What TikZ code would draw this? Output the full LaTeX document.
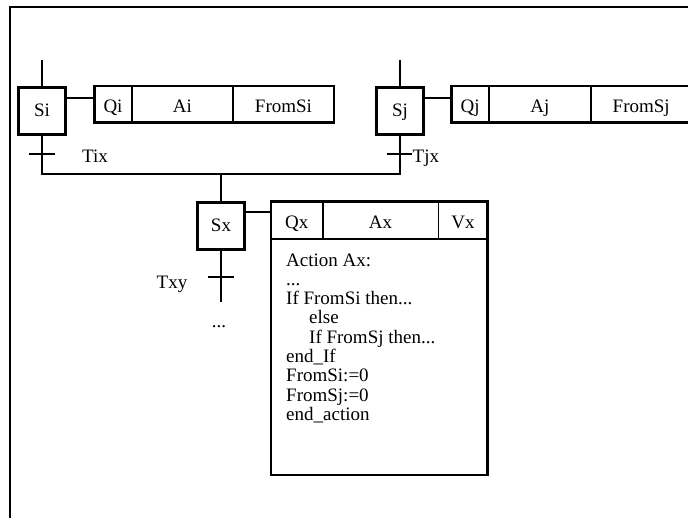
\documentclass[tikz,border=0pt]{standalone}
\usepackage{fontspec}
\setmainfont{Liberation Serif}
\usetikzlibrary{positioning}

\begin{document}
\begin{tikzpicture}[x=1pt, y=-1pt, every node/.style={font=\fontsize{19}{19.3}\selectfont},
	stepbox/.style={draw, line width=2.8pt, minimum size=47pt, inner sep=0pt, outer sep=0pt, text height=11pt, text depth=0pt},
	cell/.style={draw, line width=1.6pt, minimum height=36.7pt, inner sep=0pt, outer sep=0pt, text height=16pt, text depth=0pt},
	outline/.style={line width=2.8pt},
	link/.style={line width=2pt},
	codeline/.style={anchor=base west, inner sep=0pt}]
	\useasboundingbox (0,0) rectangle (688,517);
	\clip (0,0) rectangle (688,517);
	\draw[line width=2.5pt] (10,530) |- (700,7);

	% steps
	\node[stepbox] (si) at (42,111) {Si};
	\node[stepbox] (sj) at (400,111) {Sj};
	\node[stepbox] (sx) at (221,226) {Sx};

	% action of Si
	\node[cell, minimum width=37.4pt, anchor=north west] (qi) at (94.3,86) {Qi};
	\node[cell, minimum width=101.3pt, right=0pt of qi] (ai) {Ai};
	\node[cell, minimum width=101pt, right=0pt of ai] (fromsi) {FromSi};
	\draw[outline] (qi.north west) rectangle (fromsi.south east);

	% action of Sj
	\node[cell, minimum width=37.7pt, anchor=north west] (qj) at (451.3,86) {Qj};
	\node[cell, minimum width=101.7pt, right=0pt of qj] (aj) {Aj};
	\node[cell, minimum width=101pt, right=0pt of aj] (fromsj) {FromSj};
	\draw[outline] (qj.north west) rectangle (fromsj.south east);

	% action of Sx
	\node[cell, minimum width=51.7pt, minimum height=37.3pt, anchor=north west] (qx) at (271,201.7) {Qx};
	\node[cell, minimum width=115.6pt, minimum height=37.3pt, right=0pt of qx] (ax) {Ax};
	\node[cell, minimum width=49.4pt, minimum height=37.3pt, right=0pt of ax] (vx) {Vx};
	\coordinate (axend) at (487.7,475);
	\draw[outline] (qx.north west) rectangle (axend);

	\node[codeline] (l1) at (286,266) {Action Ax:};
	\node[codeline] (l2) at (286,285.3) {...};
	\node[codeline] (l3) at (286,304.6) {If FromSi then...};
	\node[codeline] (l4) at (309,323.9) {else};
	\node[codeline] (l5) at (309,343.2) {If FromSj then...};
	\node[codeline] (l6) at (286,362.5) {end\_If};
	\node[codeline] (l7) at (286,381.8) {FromSi:=0};
	\node[codeline] (l8) at (286,401.1) {FromSj:=0};
	\node[codeline] (l9) at (286,420.4) {end\_action};

	% links steps - actions
	\draw[link] ([yshift=13.4pt]si.east) -- ([yshift=13.4pt]si.east -| qi.west);
	\draw[link] ([yshift=13.4pt]sj.east) -- ([yshift=13.4pt]sj.east -| qj.west);
	\draw[link] ([yshift=13.7pt]sx.east) -- ([yshift=13.7pt]sx.east -| qx.west);

	% incoming links
	\coordinate (si-in) at (42,60);
	\coordinate (sj-in) at (400,60);
	\draw[link] (si-in) -- (si.north);
	\draw[link] (sj-in) -- (sj.north);

	% convergence to Sx
	\coordinate (jn) at (221,173.7);
	\draw[link] (si.south) |- (jn) -| (sj.south);
	\draw[link] (jn) -- (sx.north);
	\coordinate (sx-out) at (221,301.7);
	\draw[link] (sx.south) -- (sx-out);

	% transitions
	\coordinate (tix) at (42,154.3);
	\coordinate (tjx) at (399.5,154.3);
	\coordinate (txy) at (221,276.7);
	\draw[link] ([xshift=-13pt]tix) -- ([xshift=13pt]tix);
	\draw[link] ([xshift=-12.8pt]tjx) -- ([xshift=12.8pt]tjx);
	\draw[link] ([xshift=-12.7pt]txy) -- ([xshift=12.7pt]txy);
	\node[anchor=base west, inner sep=0pt] (tixlabel) at (82,162) {Tix};
	\node[anchor=base west, inner sep=0pt] (tjxlabel) at (412.5,162) {Tjx};
	\node[anchor=base east, inner sep=0pt] (txylabel) at (187.5,288) {Txy};
	\node[anchor=base, inner sep=0pt] (more) at (219,327) {...};
\end{tikzpicture}
\end{document}
